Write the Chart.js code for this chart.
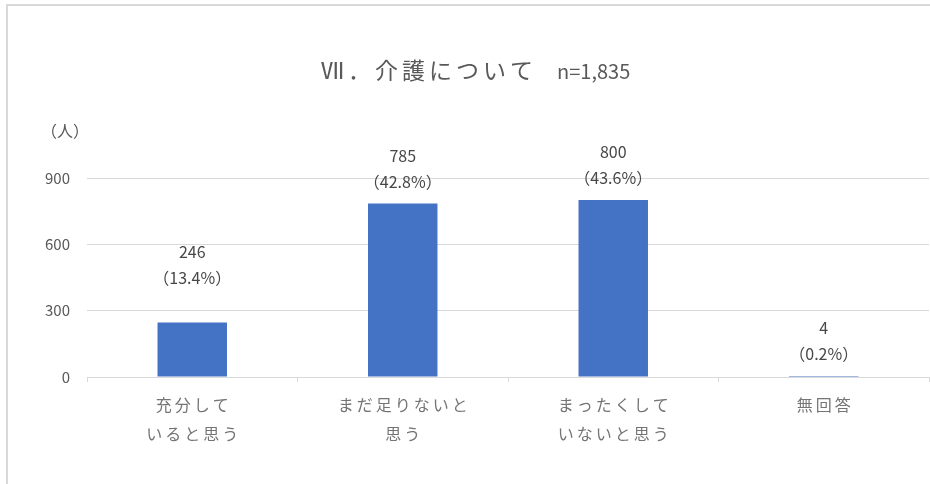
<!DOCTYPE html>
<html lang="ja">
<head>
<meta charset="utf-8">
<title>Ⅶ．介護について</title>
<script src="https://cdn.jsdelivr.net/npm/chart.js@4.4.1/dist/chart.umd.min.js"></script>
<style>
  html, body { margin: 0; padding: 0; background: #fff; overflow: hidden; }
  #wrap { position: relative; width: 930px; height: 484px; }
  #frame {
    position: absolute; left: 6px; top: 4px; width: 940px; height: 500px;
    border-left: 2px solid #d9d9d9; border-top: 2px solid #d9d9d9;
    pointer-events: none;
  }
</style>
</head>
<body>
<div id="wrap">
  <canvas id="careChart"></canvas>
  <div id="frame"></div>
</div>
<script>
// Data
const categories = [
  ['充分して', 'いると思う'],
  ['まだ足りないと', '思う'],
  ['まったくして', 'いないと思う'],
  ['無回答']
];
const counts = [246, 785, 800, 4];
const totalN = 1835;
const yTicks = [0, 300, 600, 900];

const titleMain = 'Ⅶ．介護について';
const titleN = 'n=1,835';
const unitLabel = '（人）';

const TEXT = '#595959';
const CAT_TEXT = '#747474';
const LABEL_TEXT = '#474747';
const GRID = '#d9d9d9';
const BAR = '#4472C4';
const JP = '"Noto Sans CJK JP", "Noto Sans", sans-serif';

// Title, unit, category names and value labels
const annotate = {
  id: 'annotate',
  afterDraw(chart, args, opts) {
    const ctx = chart.ctx;
    ctx.save();
    ctx.fillStyle = TEXT;
    ctx.textBaseline = 'middle';

    // title
    ctx.textAlign = 'left';
    ctx.font = '23px ' + JP;
    ctx.letterSpacing = '4px';
    ctx.fillText(titleMain, 321, 70);
    ctx.letterSpacing = '0px';
    ctx.font = '20px ' + JP;
    ctx.fillText(titleN, 557, 71);

    // unit
    ctx.textAlign = 'center';
    ctx.font = '16px ' + JP;
    ctx.fillText(unitLabel, 65, 131);

    // category names under the axis, slightly tracked
    const xScale = chart.scales.x;
    const sp = opts.catSpacing;
    ctx.fillStyle = CAT_TEXT;
    ctx.font = '16px ' + JP;
    ctx.letterSpacing = sp + 'px';
    categories.forEach((lines, i) => {
      const cx = xScale.getPixelForValue(i) + sp / 2;
      lines.forEach((line, j) => {
        ctx.fillText(line, cx, xScale.top + 28 + j * 29);
      });
    });
    ctx.letterSpacing = '0px';

    // count and share above each bar
    ctx.fillStyle = LABEL_TEXT;
    ctx.font = '16px ' + JP;
    const meta = chart.getDatasetMeta(0);
    meta.data.forEach((bar, i) => {
      const v = counts[i];
      const pct = (v / totalN * 100).toFixed(1);
      const lift = opts.lift[i] || 0;
      const base = bar.y - 22 - lift;
      ctx.fillText(String(v), bar.x, base - 26);
      ctx.fillText('（' + pct + '%）', bar.x, base);
    });
    ctx.restore();
  }
};

new Chart(document.getElementById('careChart'), {
  type: 'bar',
  data: {
    labels: categories,
    datasets: [{
      data: counts,
      backgroundColor: BAR,
      borderWidth: 0,
      barPercentage: 0.33,
      categoryPercentage: 1
    }]
  },
  options: {
    responsive: true,
    maintainAspectRatio: false,
    animation: false,
    events: [],
    layout: { padding: { top: 178, right: 1, left: 0, bottom: 0 } },
    plugins: {
      legend: { display: false },
      title: { display: false },
      tooltip: { enabled: false },
      annotate: { lift: [23, 0, 0, 0], catSpacing: 3 }
    },
    scales: {
      x: {
        afterFit(scale) { scale.height = 107; },
        grid: {
          offset: true,
          drawOnChartArea: false,
          drawTicks: true,
          tickLength: 5,
          color: GRID
        },
        border: { display: true, color: GRID, width: 1 },
        // names are drawn by the annotate plugin
        ticks: { display: false }
      },
      y: {
        min: 0,
        max: 900,
        afterFit(scale) { scale.width = 87; },
        afterBuildTicks(scale) {
          scale.ticks = yTicks.map(v => ({ value: v }));
        },
        grid: { color: GRID, lineWidth: 1, drawTicks: false },
        border: { display: false },
        ticks: {
          color: TEXT,
          padding: 17,
          font: { family: JP, size: 15 }
        }
      }
    }
  },
  plugins: [annotate]
});
</script>
</body>
</html>
